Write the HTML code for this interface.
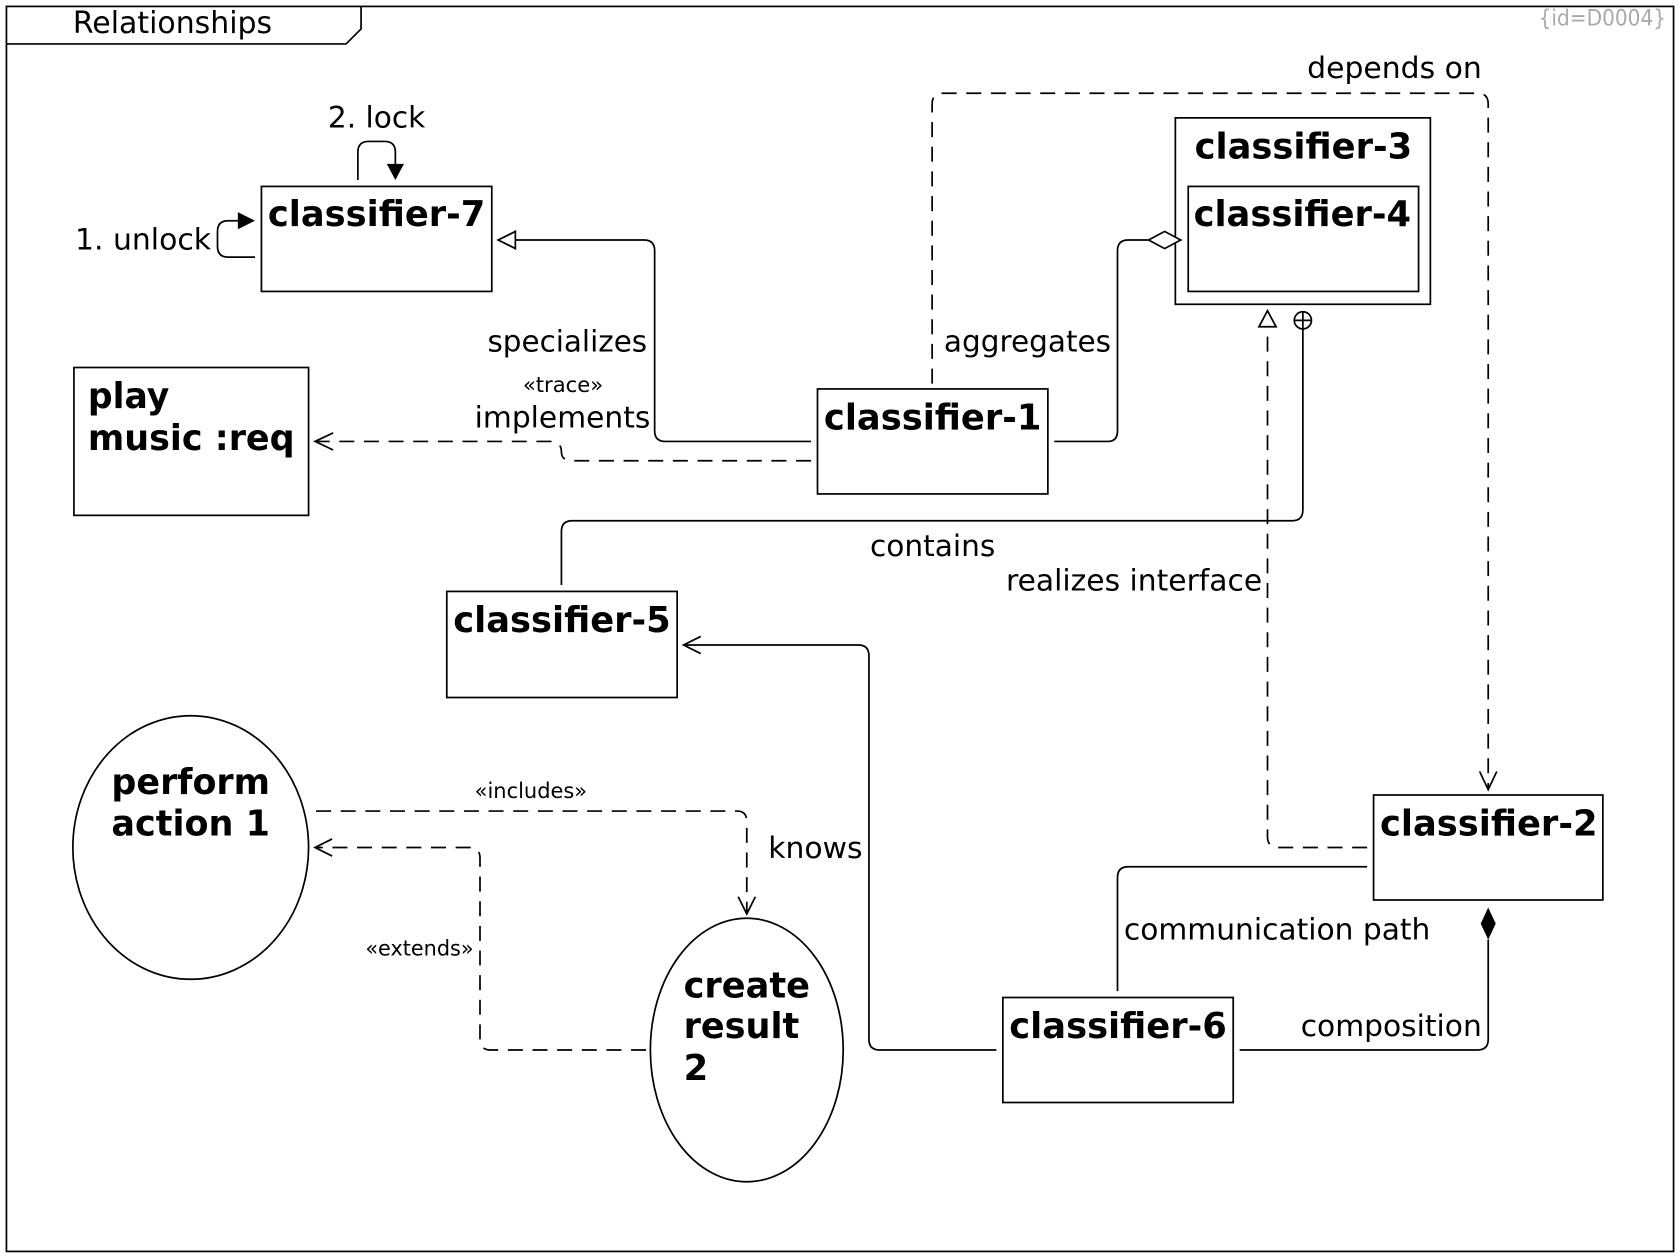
<!DOCTYPE html>
<html><head><meta charset="utf-8">
<style>
html,body{margin:0;padding:0;background:#fff;}
svg{display:block;}
text{font-family:"DejaVu Sans","Liberation Sans",sans-serif;fill:#000;}
.b{font-weight:bold;font-size:33px;}
.l{font-size:27.5px;}
.s{font-size:19.5px;}
.ln{fill:none;stroke:#000;stroke-width:1.6;}
.d{stroke-dasharray:14,9;}
</style></head>
<body>
<svg width="1680" height="1260" viewBox="0 0 1568 1176" xmlns="http://www.w3.org/2000/svg">
<rect x="6" y="6" width="1556" height="1162" class="ln"/>
<path d="M6 41 H323 L337 27 V6" class="ln"/>
<text x="68" y="31" style="font-size:28px" textLength="186" lengthAdjust="spacingAndGlyphs">Relationships</text>
<text x="1436" y="24" style="font-size:21px;fill:#aaa" textLength="119" lengthAdjust="spacingAndGlyphs">{id=D0004}</text>

<!-- boxes -->
<rect x="244" y="174" width="215" height="98" class="ln"/>
<text x="250" y="211" class="b" textLength="203" lengthAdjust="spacingAndGlyphs">classifier-7</text>
<rect x="763" y="363" width="215" height="98" class="ln"/>
<text x="769" y="401" class="b" textLength="203" lengthAdjust="spacingAndGlyphs">classifier-1</text>
<rect x="1097" y="110" width="238" height="174" class="ln"/>
<text x="1115" y="148" class="b" textLength="203" lengthAdjust="spacingAndGlyphs">classifier-3</text>
<rect x="1109" y="174" width="215" height="98" class="ln"/>
<text x="1114" y="211" class="b" textLength="203" lengthAdjust="spacingAndGlyphs">classifier-4</text>
<rect x="417" y="552" width="215" height="99" class="ln"/>
<text x="423" y="590" class="b" textLength="203" lengthAdjust="spacingAndGlyphs">classifier-5</text>
<rect x="1282" y="742" width="214" height="98" class="ln"/>
<text x="1288" y="780" class="b" textLength="203" lengthAdjust="spacingAndGlyphs">classifier-2</text>
<rect x="936" y="931" width="215" height="98" class="ln"/>
<text x="942" y="969" class="b" textLength="203" lengthAdjust="spacingAndGlyphs">classifier-6</text>
<rect x="69" y="343" width="219" height="138" class="ln"/>
<text x="82" y="381" class="b" textLength="76" lengthAdjust="spacingAndGlyphs">play</text>
<text x="82" y="420" class="b" textLength="193" lengthAdjust="spacingAndGlyphs">music :req</text>
<ellipse cx="178" cy="791" rx="110" ry="123" class="ln"/>
<text x="104" y="741" class="b" textLength="148" lengthAdjust="spacingAndGlyphs">perform</text>
<text x="104" y="780" class="b" textLength="148" lengthAdjust="spacingAndGlyphs">action 1</text>
<ellipse cx="697" cy="980" rx="90" ry="123" class="ln"/>
<text x="638" y="931" class="b" textLength="118" lengthAdjust="spacingAndGlyphs">create</text>
<text x="638" y="969" class="b" textLength="108" lengthAdjust="spacingAndGlyphs">result</text>
<text x="638" y="1008" class="b">2</text>

<!-- labels -->
<text x="306" y="119" class="l" textLength="91" lengthAdjust="spacingAndGlyphs">2. lock</text>
<text x="70" y="233" class="l" textLength="127" lengthAdjust="spacingAndGlyphs">1. unlock</text>
<text x="455" y="328" class="l" textLength="149" lengthAdjust="spacingAndGlyphs">specializes</text>
<text x="488" y="366" class="s" textLength="75" lengthAdjust="spacingAndGlyphs">«trace»</text>
<text x="443" y="399" class="l" textLength="164" lengthAdjust="spacingAndGlyphs">implements</text>
<text x="881" y="328" class="l" textLength="156" lengthAdjust="spacingAndGlyphs">aggregates</text>
<text x="1220" y="73" class="l" textLength="163" lengthAdjust="spacingAndGlyphs">depends on</text>
<text x="812" y="519" class="l" textLength="117" lengthAdjust="spacingAndGlyphs">contains</text>
<text x="939" y="551" class="l" textLength="239" lengthAdjust="spacingAndGlyphs">realizes interface</text>
<text x="717" y="801" class="l" textLength="88" lengthAdjust="spacingAndGlyphs">knows</text>
<text x="443" y="745" class="s" textLength="105" lengthAdjust="spacingAndGlyphs">«includes»</text>
<text x="341" y="892" class="s" textLength="101" lengthAdjust="spacingAndGlyphs">«extends»</text>
<text x="1049" y="877" class="l" textLength="286" lengthAdjust="spacingAndGlyphs">communication path</text>
<text x="1214" y="967" class="l" textLength="169" lengthAdjust="spacingAndGlyphs">composition</text>

<!-- self loops -->
<path d="M334 168 V142 Q334 132 344 132 H359 Q369 132 369 142 V154" class="ln"/>
<path d="M361 153 L377 153 L369 168 Z" fill="#000"/>
<path d="M238 240 H213 Q203 240 203 230 V216 Q203 206 213 206 H224" class="ln"/>
<path d="M222 198 L238 206 L222 214 Z" fill="#000"/>

<!-- specializes -->
<path d="M757 412 H621 Q611 412 611 402 V234 Q611 224 601 224 H481" class="ln"/>
<path d="M481 216 L465 224 L481 232 Z" fill="#fff" stroke="#000" stroke-width="1.6"/>
<!-- trace -->
<path d="M757 430 H534 Q524 430 524 422 Q524 412 514 412 H296" class="ln d"/>
<path d="M311 404 L294 412 L311 420" class="ln"/>
<!-- aggregates -->
<path d="M984 412 H1034 Q1043 412 1043 402 V234 Q1043 224 1053 224 H1072" class="ln"/>
<path d="M1072 224 L1087 216 L1102 224 L1087 232 Z" fill="#fff" stroke="#000" stroke-width="1.6"/>
<!-- depends on -->
<path d="M870 358 V97 Q870 87 880 87 H1379 Q1389 87 1389 97 V735" class="ln d"/>
<path d="M1381 720 L1389 737 L1397 720" class="ln"/>
<!-- contains -->
<path d="M524 546 V496 Q524 486 534 486 H1206 Q1216 486 1216 476 V307" class="ln"/>
<circle cx="1216" cy="299" r="8" class="ln"/>
<path d="M1208 299 H1224 M1216 291 V307" class="ln"/>
<!-- realizes -->
<path d="M1276 791 H1193 Q1183 791 1183 781 V305" class="ln d"/>
<path d="M1175 305 L1183 290 L1191 305 Z" fill="#fff" stroke="#000" stroke-width="1.6"/>
<!-- knows -->
<path d="M930 980 H821 Q811 980 811 970 V612 Q811 602 801 602 H640" class="ln"/>
<path d="M654 594 L638 602 L654 610" class="ln"/>
<!-- communication path -->
<path d="M1276 809 H1053 Q1043 809 1043 819 V925" class="ln"/>
<!-- composition -->
<path d="M1157 980 H1379 Q1389 980 1389 970 V877" class="ln"/>
<path d="M1389 847 L1396 862 L1389 877 L1382 862 Z" fill="#000"/>
<!-- includes -->
<path d="M295 757 H688 Q697 757 697 767 V851" class="ln d"/>
<path d="M689 837 L697 853 L705 837" class="ln"/>
<!-- extends -->
<path d="M603 980 H458 Q448 980 448 970 V801 Q448 791 438 791 H296" class="ln d"/>
<path d="M310 783 L294 791 L310 799" class="ln"/>
</svg>
</body></html>
